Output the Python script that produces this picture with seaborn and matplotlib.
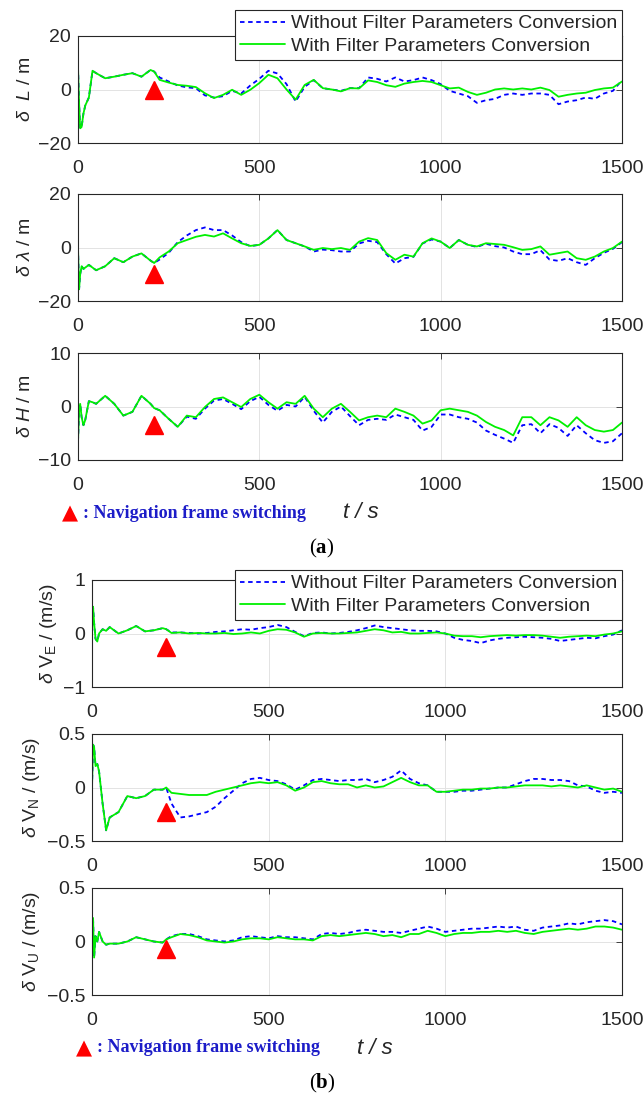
import matplotlib
matplotlib.use('Agg')
import numpy as np
import pandas as pd
import matplotlib.pyplot as plt
import seaborn as sns
from matplotlib.ticker import FuncFormatter

# ----------------------------------------------------------------------
# Data (time in s)
# ----------------------------------------------------------------------
time_s = [0, 3, 6, 10, 15, 20, 30, 40, 50, 75, 100, 125, 150, 175, 200, 210,
          225, 250, 275, 300, 325, 350, 375, 400, 425, 450,
          475, 500, 525, 550, 575, 600, 625, 650, 675, 700,
          725, 750, 775, 800, 825, 850, 875, 900, 925, 950,
          975, 1000, 1025, 1050, 1075, 1100, 1125, 1150, 1175, 1200,
          1225, 1250, 1275, 1300, 1325, 1350, 1375, 1400, 1425, 1450,
          1475, 1500]
n_before = 16          # samples up to the navigation frame switch
switch_t = 210

# position errors (m)
dL_with = [8.5, -5, -14.5, -14, -9, -6, -3, 7, 6.1, 4.2, 4.8, 5.5, 6.1, 4.8, 7.3, 6.7,
           3.6, 2.6, 1.7, 1.4, 0.9, -1.4, -3.2, -2.0, -0.1, -2.0,
           -0.1, 2.4, 5.5, 4.2, 0.0, -3.8, 1.7, 3.6, 0.5, 0.0,
           -0.7, 0.5, 0.4, 3.4, 2.8, 1.6, 1.0, 2.2, 2.8, 3.2,
           2.8, 1.6, 0.4, 0.7, -0.9, -2.0, -1.2, 0.0, 0.4, 0.0,
           0.4, 0.0, 0.7, -0.2, -2.7, -2.0, -1.5, -1.2, -0.2, 0.4,
           0.7, 3.0]
dL_without = dL_with[:n_before] + [
           4.5, 3.0, 1.5, 0.8, 0.5, -2.2, -3.0, -2.5, -0.5, -1.5,
           1.5, 4.0, 7.0, 6.0, 2.0, -4.5, 1.0, 3.5, 0.5, 0.0,
           -0.5, 0.5, 0.5, 4.5, 4.0, 3.0, 4.5, 3.0, 3.5, 4.5,
           3.5, 2.0, -0.5, -1.5, -2.5, -5.0, -4.0, -3.5, -2.0, -1.5,
           -2.0, -1.5, -1.5, -2.0, -5.5, -4.5, -4.0, -3.0, -3.5, -1.5,
           -0.5, 3.5]

dlam_with = [0, -15.6, -10, -7, -8, -7.5, -6.5, -7.5, -8.5, -7, -4, -5.5, -3.4, -2.2, -4.9, -5.8,
             -3.7, -1.5, 1.6, 2.8, 4.0, 4.7, 4.1, 5.3, 3.4, 1.6,
             0.6, 1.0, 3.4, 6.5, 2.8, 1.6, 0.4, -0.9, -0.2, -0.6,
             -0.2, -0.9, 2.2, 3.5, 2.8, -2.1, -4.6, -2.7, -3.4, 1.6,
             3.4, 2.2, -0.2, 2.8, 1.0, 0.4, 1.6, 1.3, 1.0, 0.1,
             -0.9, -0.6, 0.4, -2.7, -2.1, -1.5, -4.0, -4.6, -3.4, -1.5,
             -0.2, 2.2]
dlam_without = dlam_with[:n_before] + [
             -4.5, -2.0, 2.0, 4.5, 6.5, 7.5, 6.5, 6.5, 4.5, 2.0,
             0.5, 1.0, 3.4, 6.5, 2.8, 1.6, 0.4, -1.5, -0.8, -1.0,
             -1.5, -1.5, 1.5, 2.5, 2.0, -2.5, -6.0, -4.0, -3.5, 1.5,
             3.0, 2.2, -0.2, 2.8, 1.0, 0.2, 1.4, 0.5, 0.0, -1.5,
             -2.5, -2.5, -1.0, -4.5, -5.0, -4.0, -5.5, -6.5, -4.0, -2.0,
             -0.5, 2.0]

dH_with = [-6.6, -1, 0.5, -2, -3.5, -2.5, 1.0, 0.8, 0.5, 2.0, 0.5, -1.7, -1.0, 2.0, 0.5, -0.3,
           -0.7, -2.3, -3.8, -1.7, -2.0, -0.1, 1.4, 1.7, 0.8, -0.1,
           1.4, 2.2, 0.8, -0.4, 0.8, 0.5, 2.0, -0.4, -2.0, -0.4,
           0.5, -1.0, -2.6, -2.0, -1.7, -2.0, -0.4, -1.0, -1.7, -3.2,
           -2.6, -0.7, -0.4, -0.7, -1.0, -1.7, -2.9, -3.8, -4.4, -5.4,
           -2.0, -2.0, -3.5, -2.0, -2.6, -3.8, -2.0, -3.5, -4.4, -4.7,
           -4.4, -3.0]
dH_without = dH_with[:n_before] + [
           -0.7, -2.3, -3.8, -1.9, -2.3, -0.4, 1.1, 1.4, 0.5, -0.5,
           1.0, 1.8, 0.3, -0.8, 0.3, 0.0, 1.8, -0.8, -3.0, -1.0,
           0.0, -1.8, -3.5, -2.5, -2.3, -2.5, -1.5, -2.0, -2.5, -4.5,
           -3.8, -1.5, -1.5, -2.0, -2.3, -3.0, -4.5, -5.3, -6.0, -6.8,
           -3.5, -3.3, -5.0, -3.3, -4.0, -5.5, -3.5, -5.0, -6.3, -6.8,
           -6.5, -5.0]

# velocity errors (m/s)
dVE_with = [0.0, 0.5, 0.2, -0.1, -0.15, 0.0, 0.08, 0.05, 0.12, 0.0, 0.06, 0.14, 0.04, 0.06, 0.1, 0.08,
            0.01, 0.02, 0.0, 0.01, 0.0, 0.0, 0.01, -0.01, 0.0, 0.02,
            0.0, 0.05, 0.08, 0.07, 0.02, -0.06, 0.0, 0.01, 0.0, 0.0,
            0.01, 0.02, 0.05, 0.08, 0.06, 0.02, 0.03, 0.0, 0.0, 0.01,
            0.02, 0.0, -0.04, -0.05, -0.05, -0.07, -0.05, -0.04, -0.03, -0.04,
            -0.03, -0.03, -0.04, -0.06, -0.08, -0.06, -0.05, -0.04, -0.05, -0.02,
            0.0, 0.04]
dVE_without = dVE_with[:n_before] + [
            0.02, 0.02, 0.01, 0.0, 0.01, 0.03, 0.04, 0.06, 0.08, 0.07,
            0.1, 0.12, 0.16, 0.12, 0.03, -0.05, 0.01, 0.02, 0.0, 0.01,
            0.03, 0.06, 0.1, 0.15, 0.12, 0.1, 0.08, 0.06, 0.05, 0.05,
            0.04, 0.0, -0.08, -0.12, -0.14, -0.18, -0.13, -0.1, -0.08, -0.07,
            -0.06, -0.07, -0.08, -0.1, -0.14, -0.12, -0.1, -0.08, -0.09, -0.05,
            -0.02, 0.06]

dVN_with = [0.0, 0.4, 0.38, 0.2, 0.22, 0.15, -0.15, -0.4, -0.28, -0.23, -0.08, -0.1, -0.08, -0.02, -0.02, 0.0,
            -0.05, -0.06, -0.07, -0.07, -0.07, -0.04, -0.02, 0.0, 0.02, 0.04,
            0.05, 0.04, 0.05, 0.02, -0.03, 0.0, 0.05, 0.06, 0.04, 0.03,
            0.03, 0.0, 0.02, 0.0, 0.01, 0.05, 0.09, 0.05, 0.02, 0.02,
            -0.04, -0.04, -0.03, -0.02, -0.02, -0.01, -0.01, 0.0, 0.0, 0.01,
            0.02, 0.02, 0.02, 0.01, 0.02, 0.01, 0.0, 0.02, 0.0, -0.02,
            -0.01, -0.04]
dVN_without = dVN_with[:n_before] + [
            -0.15, -0.28, -0.27, -0.25, -0.23, -0.18, -0.1, -0.03, 0.04, 0.08,
            0.09, 0.07, 0.06, 0.03, -0.02, 0.02, 0.07, 0.08, 0.07, 0.06,
            0.07, 0.07, 0.08, 0.05, 0.07, 0.1, 0.16, 0.08, 0.04, 0.02,
            -0.04, -0.04, -0.04, -0.03, -0.03, -0.02, -0.01, 0.0, 0.0, 0.03,
            0.06, 0.08, 0.08, 0.07, 0.07, 0.06, 0.02, 0.01, -0.03, -0.05,
            -0.04, -0.05]

dVU_with = [0.0, 0.22, -0.15, 0.05, 0.0, 0.09, 0.0, -0.03, -0.02, -0.02, 0.0, 0.04, 0.02, 0.0, -0.01, 0.02,
            0.04, 0.07, 0.06, 0.04, 0.01, 0.0, -0.01, 0.0, 0.02, 0.03,
            0.03, 0.02, 0.04, 0.03, 0.02, 0.02, 0.01, 0.05, 0.06, 0.05,
            0.06, 0.07, 0.08, 0.07, 0.05, 0.06, 0.04, 0.07, 0.07, 0.1,
            0.08, 0.05, 0.07, 0.08, 0.08, 0.09, 0.09, 0.1, 0.09, 0.1,
            0.08, 0.07, 0.09, 0.1, 0.11, 0.12, 0.11, 0.12, 0.14, 0.14,
            0.13, 0.11]
dVU_without = dVU_with[:n_before] + [
            0.05, 0.07, 0.07, 0.05, 0.02, 0.01, 0.0, 0.01, 0.04, 0.05,
            0.04, 0.03, 0.05, 0.04, 0.04, 0.03, 0.02, 0.07, 0.08, 0.07,
            0.08, 0.1, 0.11, 0.1, 0.09, 0.09, 0.08, 0.1, 0.12, 0.14,
            0.12, 0.09, 0.1, 0.11, 0.12, 0.12, 0.13, 0.14, 0.13, 0.14,
            0.11, 0.1, 0.13, 0.14, 0.15, 0.17, 0.16, 0.18, 0.19, 0.2,
            0.19, 0.16]

# where the red switching triangles sit in each panel
marker_level = [0, -10, -3.5, -0.25, -0.23, -0.07]

ylabels = [r'$\delta\ \ L$ / m', r'$\delta\ \lambda$ / m', r'$\delta\ H$ / m',
           r'$\delta$ V$_\mathrm{E}$ / (m/s)', r'$\delta$ V$_\mathrm{N}$ / (m/s)',
           r'$\delta$ V$_\mathrm{U}$ / (m/s)']
yticks = [[-20, 0, 20], [-20, 0, 20], [-10, 0, 10], [-1, 0, 1], [-0.5, 0, 0.5], [-0.5, 0, 0.5]]
legend_labels = ['Without Filter Parameters Conversion', 'With Filter Parameters Conversion']

series = [(dL_with, dL_without), (dlam_with, dlam_without), (dH_with, dH_without),
          (dVE_with, dVE_without), (dVN_with, dVN_without), (dVU_with, dVU_without)]

# ----------------------------------------------------------------------
# Style
# ----------------------------------------------------------------------
sns.set_theme(style='white')
plt.rcParams['font.family'] = ['Liberation Sans', 'DejaVu Sans']
plt.rcParams['mathtext.fontset'] = 'custom'
plt.rcParams['mathtext.rm'] = 'Liberation Sans'
plt.rcParams['mathtext.it'] = 'Liberation Sans:italic'
plt.rcParams['mathtext.bf'] = 'Liberation Serif:bold'

TXT = '#262626'
W, H = 644, 1098
fig = plt.figure(figsize=(W / 100, H / 100), dpi=100)

# panel boxes in pixels: left, top, right, bottom
boxes = [(78, 36, 622, 143), (78, 194, 622, 301), (78, 353, 622, 460),
         (92, 580, 622, 687), (92, 734, 622, 841), (92, 888, 622, 995)]

fmt = FuncFormatter(lambda v, p: f'{v:g}'.replace('-', '\u2212'))

for i, ((l, tp, r, b), (y_with, y_without)) in enumerate(zip(boxes, series)):
    ax = fig.add_axes([l / W, 1 - b / H, (r - l) / W, (b - tp) / H])
    df = pd.DataFrame({'t': time_s, 'with': y_with, 'without': y_without})
    sns.lineplot(data=df, x='t', y='without', ax=ax, color='#0000ff', lw=1.3,
                 linestyle=(0, (2.5, 2)), estimator=None, label=legend_labels[0])
    sns.lineplot(data=df, x='t', y='with', ax=ax, color='#00f000', lw=1.3,
                 estimator=None, label=legend_labels[1])
    ax.plot([switch_t], [marker_level[i]], marker='^', ms=13, color='red', ls='none')

    ax.set_xlim(0, 1500)
    ax.set_ylim(yticks[i][0], yticks[i][-1])
    ax.set_xticks([0, 500, 1000, 1500])
    ax.set_yticks(yticks[i])
    ax.yaxis.set_major_formatter(fmt)
    ax.set_xlabel('')
    ax.set_ylabel(ylabels[i], fontsize=14, color=TXT, labelpad=3)
    ax.grid(True, color='#e3e3e3', lw=0.7)
    ax.set_axisbelow(True)
    ax.tick_params(direction='in', top=True, right=True, length=4, width=0.6,
                   colors=TXT, labelsize=14)
    ax.tick_params(axis='x', pad=12)
    ax.tick_params(axis='y', pad=5)
    for sp in ax.spines.values():
        sp.set_color(TXT)
        sp.set_linewidth(0.8)

    if i in (0, 3):
        above = 26 if i == 0 else 10
        leg = ax.legend(loc='upper right', bbox_to_anchor=(1.0, 1 + above / (b - tp)),
                        fontsize=14, frameon=True, fancybox=False, framealpha=1,
                        edgecolor=TXT, handlelength=2.3, handletextpad=0.3,
                        borderpad=0.25, labelspacing=0.25, borderaxespad=0)
        leg.get_frame().set_linewidth(0.8)
    elif ax.get_legend():
        ax.get_legend().remove()

# ----------------------------------------------------------------------
# Footnotes and sub-figure labels
# ----------------------------------------------------------------------
for y_note, x_tri, lab, y_lab in [(513, 70, 'a', 548), (1048, 84, 'b', 1083)]:
    fig.text(x_tri / W, 1 - y_note / H, '\u25B2', color='red', fontsize=15,
             family='DejaVu Sans', ha='center', va='center')
    fig.text((x_tri + 13) / W, 1 - y_note / H, ': Navigation frame switching',
             family='Liberation Serif', weight='bold', color='#1c1cc8',
             fontsize=13, ha='left', va='center')
    fig.text((x_tri + 273) / W, 1 - y_note / H, 't / s', style='italic',
             color=TXT, fontsize=16, ha='left', va='center')
    fig.text(322 / W, 1 - y_lab / H, '(' + r'$\mathbf{' + lab + '}$' + ')',
             family='Liberation Serif', fontsize=15, color='black',
             ha='center', va='center')

fig.savefig('out.png', dpi=100)
